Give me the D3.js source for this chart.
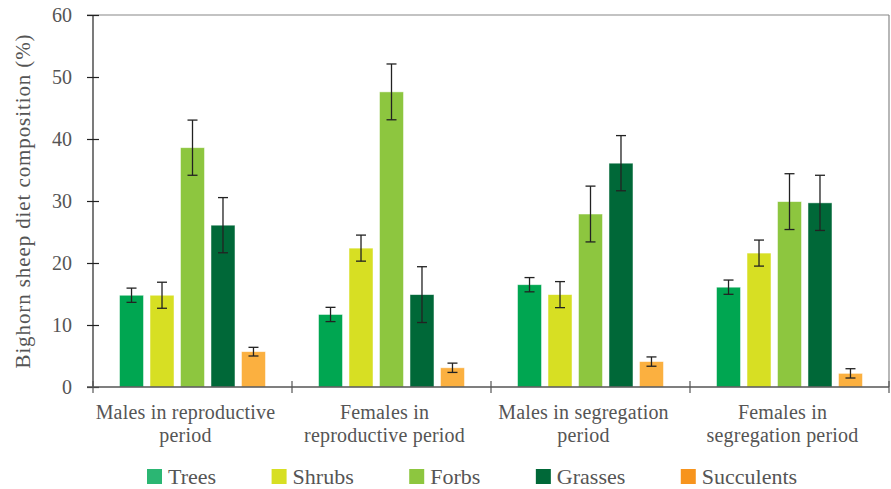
<!DOCTYPE html>
<html>
<head>
<meta charset="utf-8">
<script src="https://cdn.jsdelivr.net/npm/d3@7"></script>
<style>
	body { margin: 0; background: #fff; }
	text { font-family: "Liberation Serif", serif; fill: #555; }
</style>
</head>
<body>
<svg id="chart" width="891" height="489"></svg>
<script>
// categories (two lines each) and series
let categories = [
	['Males in reproductive', 'period'],
	['Females in', 'reproductive period'],
	['Males in segregation', 'period'],
	['Females in', 'segregation period'],
]
let series = ['Trees', 'Shrubs', 'Forbs', 'Grasses', 'Succulents']

// mean values per category, one array per series
let trees = [14.8, 11.7, 16.5, 16.1]
let shrubs = [14.8, 22.4, 14.9, 21.6]
let forbs = [38.6, 47.6, 27.9, 29.9]
let grasses = [26.1, 14.9, 36.1, 29.7]
let succulents = [5.7, 3.1, 4.1, 2.2]

// error (half length of the bar)
let treesErr = [1.15, 1.15, 1.15, 1.15]
let shrubsErr = [2.1, 2.1, 2.1, 2.1]
let forbsErr = [4.45, 4.5, 4.5, 4.5]
let grassesErr = [4.45, 4.5, 4.45, 4.45]
let succulentsErr = [0.7, 0.75, 0.75, 0.75]

let yTicks = [0, 10, 20, 30, 40, 50, 60]

let barColors = ['#00a651', '#d7df23', '#8dc63f', '#006838', '#fbb040']
let legendColors = ['#2bb673', '#d7df23', '#8dc63f', '#006838', '#f7941d']

let values = [trees, shrubs, forbs, grasses, succulents]
let errs = [treesErr, shrubsErr, forbsErr, grassesErr, succulentsErr]

let rows = []
categories.forEach((c, ci) => {
	series.forEach((s, si) => {
		rows.push({ ci: ci, si: si, v: values[si][ci], e: errs[si][ci] })
	})
})

let pLeft = 93, pRight = 889, pTop = 15, pBottom = 387
let svg = d3.select('#chart')

let x0 = d3.scaleBand().domain(d3.range(categories.length)).range([pLeft, pRight])
let x1 = d3.scaleBand().domain(d3.range(series.length))
	.range([0, x0.bandwidth()])
	.paddingInner(0.213)
	.paddingOuter(0.87)
let y = d3.scaleLinear().domain([0, 60]).range([pBottom, pTop])
let color = d3.scaleOrdinal().domain(d3.range(series.length)).range(barColors)

// frame: top and right lines
svg.append('line')
	.attr('x1', pLeft - 6).attr('x2', pRight)
	.attr('y1', y(60)).attr('y2', y(60))
	.attr('stroke', '#888').attr('stroke-width', 1.2)
svg.append('line')
	.attr('x1', pRight).attr('x2', pRight)
	.attr('y1', pTop).attr('y2', pBottom)
	.attr('stroke', '#888').attr('stroke-width', 1.2)

// bars
svg.append('g').selectAll('rect')
	.data(rows)
	.join('rect')
	.attr('x', d => x0(d.ci) + x1(d.si))
	.attr('width', x1.bandwidth())
	.attr('y', d => y(d.v))
	.attr('height', d => y(0) - y(d.v))
	.attr('fill', d => color(d.si))
	.attr('stroke', '#fff')
	.attr('stroke-opacity', 0.6)
	.attr('stroke-width', 0.8)

// error bars
let eb = svg.append('g')
	.attr('stroke', '#222')
	.attr('stroke-width', 1.3)
	.selectAll('g')
	.data(rows)
	.join('g')
	.attr('transform', d => `translate(${x0(d.ci) + x1(d.si) + x1.bandwidth() / 2},0)`)
eb.append('line')
	.attr('y1', d => y(d.v + d.e)).attr('y2', d => y(d.v - d.e))
eb.append('line')
	.attr('x1', -5).attr('x2', 5)
	.attr('y1', d => y(d.v + d.e)).attr('y2', d => y(d.v + d.e))
eb.append('line')
	.attr('x1', -5).attr('x2', 5)
	.attr('y1', d => y(d.v - d.e)).attr('y2', d => y(d.v - d.e))

// y axis
let yAxis = svg.append('g')
	.attr('transform', `translate(${pLeft},0)`)
	.call(d3.axisLeft(y).tickValues(yTicks).tickSize(6).tickPadding(15))
yAxis.select('.domain').attr('stroke', '#222').attr('stroke-width', 1.2)
	.attr('d', `M0,${y(60)}V${y(0)}`)
yAxis.selectAll('.tick line').attr('x1', -6).attr('x2', 6).attr('stroke', '#222').attr('stroke-width', 1.2)
yAxis.selectAll('.tick text')
	.style('font-family', '"Liberation Serif", serif')
	.style('font-size', '20px')
	.attr('fill', '#555')

// x axis
let xAxis = svg.append('g')
xAxis.append('line')
	.attr('x1', pLeft - 6).attr('x2', pRight)
	.attr('y1', pBottom).attr('y2', pBottom)
	.attr('stroke', '#555').attr('stroke-width', 1.3)
let bounds = d3.range(categories.length + 1).map(i => i < categories.length ? x0(i) : x0(i - 1) + x0.bandwidth())
xAxis.selectAll('line.sep')
	.data(bounds)
	.join('line')
	.attr('class', 'sep')
	.attr('x1', d => d).attr('x2', d => d)
	.attr('y1', pBottom - 6).attr('y2', pBottom + 6)
	.attr('stroke', '#555').attr('stroke-width', 1.2)

// labels sit a little left of the group centre
xAxis.selectAll('text.cat')
	.data(categories)
	.join('text')
	.attr('class', 'cat')
	.attr('text-anchor', 'middle')
	.attr('font-size', 20)
	.attr('letter-spacing', 0.2)
	.attr('x', (d, i) => x0(i) + x0.bandwidth() / 2 - 7)
	.attr('y', 419)
	.selectAll('tspan')
	.data(d => d)
	.join('tspan')
	.attr('x', function () { return this.parentNode.getAttribute('x') })
	.attr('dy', (d, i) => i ? 23 : 0)
	.text(d => d)

// y label
svg.append('text')
	.attr('transform', `translate(30,${(pTop + pBottom) / 2}) rotate(-90)`)
	.attr('text-anchor', 'middle')
	.attr('font-size', 21)
	.attr('letter-spacing', 0.9)
	.text('Bighorn sheep diet composition (%)')

// legend
let lg = svg.append('g')
let items = lg.selectAll('g')
	.data(series)
	.join('g')
items.append('rect')
	.attr('width', 15).attr('height', 15)
	.attr('y', 469)
	.attr('fill', (d, i) => legendColors[i])
items.append('text')
	.attr('x', 21)
	.attr('y', 484)
	.attr('font-size', 22)
	.text(d => d)
let pos = 0
let gap = 55.5
let widths = []
items.each(function () {
	let w = 21 + this.querySelector('text').getComputedTextLength()
	widths.push(w)
})
let start = 147
items.attr('transform', (d, i) => {
	let t = `translate(${start + pos},0)`
	pos += widths[i] + gap
	return t
})
</script>
</body>
</html>
